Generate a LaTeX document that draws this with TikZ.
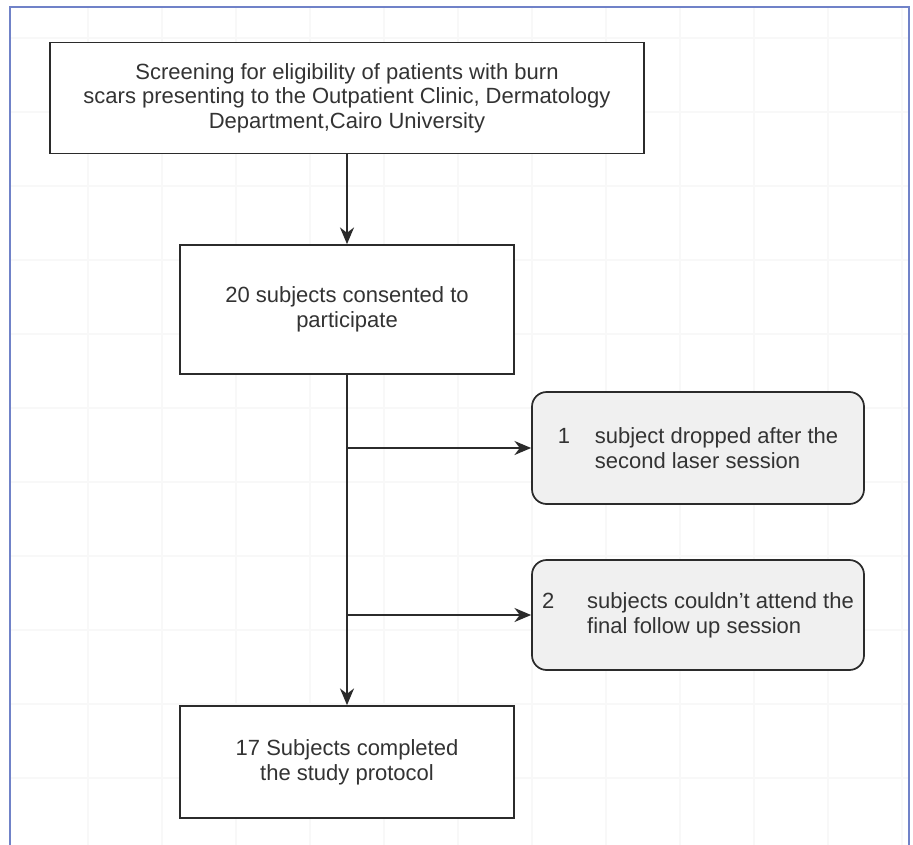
\documentclass[tikz,border=0pt]{standalone}
\usepackage{fontspec}
\setmainfont{Liberation Sans}
\usepackage{xcolor}
\usetikzlibrary{arrows.meta,positioning,calc}

\definecolor{framecol}{HTML}{7082C8}
\definecolor{textcol}{HTML}{333333}
\definecolor{linecol}{HTML}{2B2B2B}
\definecolor{dropfill}{HTML}{F0F0F0}
\definecolor{gridcol}{HTML}{F8F8F8}

\begin{document}
\begin{tikzpicture}[
  x=0.75pt, y=-0.75pt,
  every node/.style={font=\fontsize{16.5pt}{18.5pt}\selectfont, text=textcol},
  box/.style={draw=linecol, line width=1.3pt, align=center, inner sep=4pt, fill=white},
  dropbox/.style={box, rounded corners=11pt, fill=dropfill, align=left},
  arrow/.style={-{Stealth[length=12.5pt, width=10.5pt, inset=4pt]}, line width=1.4pt, draw=linecol},
  frame/.style={draw=framecol, line width=1.5pt},
  gridline/.style={draw=gridcol, line width=1.2pt}
]
\useasboundingbox (0,0) rectangle (913,845);
\fill[white] (0,0) rectangle (913,845);

% faint drawing grid
\foreach \gx in {88,162,...,902} \draw[gridline] (\gx,8) -- (\gx,845);
\foreach \gy in {38,112,...,778} \draw[gridline] (11,\gy) -- (908,\gy);
\draw[frame] (10,845) -- (10,7) -- (909,7) -- (909,845);

\node[box, minimum width=445.5pt, minimum height=83.25pt] (screen) at (347,98)
  {Screening for eligibility of patients with burn\\scars presenting to the Outpatient Clinic, Dermatology\\Department,Cairo University};
\node[box, minimum width=250.5pt, minimum height=96.75pt] (consent) at (347,309.5)
  {20 subjects consented to\\participate};
\node[box, minimum width=250.5pt, minimum height=84pt] (complete) at (347,762)
  {17 Subjects completed\\the study protocol};

\node[dropbox, minimum width=249pt, minimum height=84pt] (drop1) at (698,448)
  {\makebox[27.75pt][l]{1}subject dropped after the\\\hspace*{27.75pt}second laser session};
\node[dropbox, minimum width=249pt, minimum height=82.5pt] (drop2) at (698,615)
  {\makebox[33.75pt][l]{2}subjects couldn't attend the\\\hspace*{33.75pt}final follow up session};

\coordinate (split1) at (consent.south |- drop1.west);
\coordinate (split2) at (consent.south |- drop2.west);

\draw[arrow] (screen) -- (consent);
\draw[arrow] (consent) -- (complete);
\draw[arrow] (split1) -- (drop1);
\draw[arrow] (split2) -- (drop2);
\end{tikzpicture}
\end{document}
